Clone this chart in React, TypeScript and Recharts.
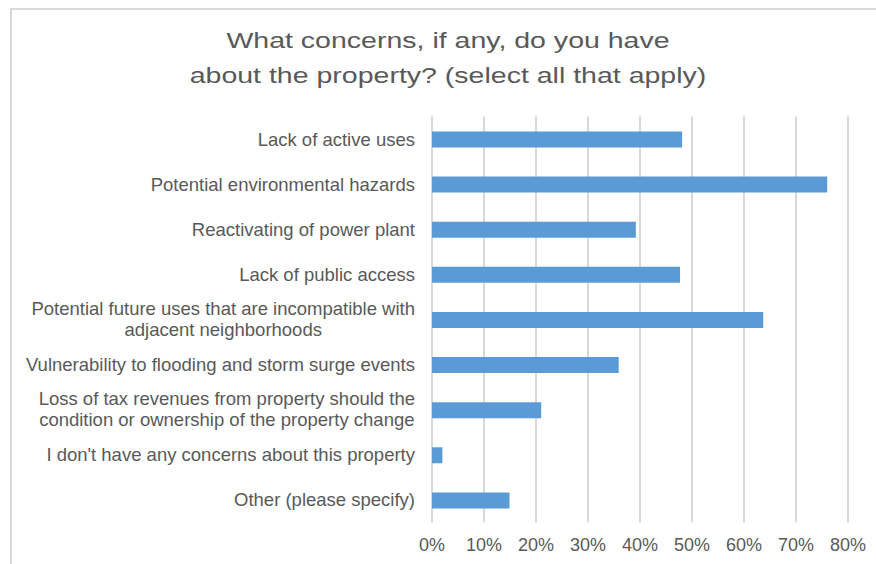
import { Bar, BarChart, CartesianGrid, XAxis, YAxis } from 'recharts';

const categories = [
	'Lack of active uses',
	'Potential environmental hazards',
	'Reactivating of power plant',
	'Lack of public access',
	'Potential future uses that are incompatible with adjacent neighborhoods',
	'Vulnerability to flooding and storm surge events',
	'Loss of tax revenues from property should the condition or ownership of the property change',
	"I don't have any concerns about this property",
	'Other (please specify)',
];

const shares = [0.481, 0.76, 0.392, 0.477, 0.637, 0.359, 0.21, 0.02, 0.149];

const xTicks = [0, 0.1, 0.2, 0.3, 0.4, 0.5, 0.6, 0.7, 0.8];

const titleLines = ['What concerns, if any, do you have', 'about the property? (select all that apply)'];

const FONT = '"Liberation Sans", Arial, Helvetica, sans-serif';
const GREY = '#595959';
const LABEL_SIZE = 18.5;

const data = categories.map((name, i) => ({ name, value: shares[i] }));

// wrap long labels the way Excel does, roughly by character count
function wrap(text: string, max: number) {
	const words = text.split(' ');
	const lines: string[] = [];
	let cur = '';
	for (const w of words) {
		const next = cur ? cur + ' ' + w : w;
		if (next.length > max && cur) {
			lines.push(cur);
			cur = w;
		} else {
			cur = next;
		}
	}
	if (cur) lines.push(cur);
	return lines;
}

let ctx: CanvasRenderingContext2D | null = null;
function measure(s: string) {
	if (!ctx) {
		ctx = document.createElement('canvas').getContext('2d');
	}
	if (!ctx) return s.length * 9;
	ctx.font = `${LABEL_SIZE}px ${FONT}`;
	return ctx.measureText(s).width;
}

function CategoryTick({ x, y, payload }: any) {
	const lines = wrap(payload.value, 48);
	if (lines.length === 1) {
		return (
			<text x={x} y={y + 6.5} textAnchor="end" fill={GREY} fontSize={LABEL_SIZE} fontFamily={FONT}>
				{lines[0]}
			</text>
		);
	}
	const w = Math.max(...lines.map(measure));
	const cx = x - w / 2;
	return (
		<text textAnchor="middle" fill={GREY} fontSize={LABEL_SIZE} fontFamily={FONT}>
			{lines.map((l, i) => (
				<tspan key={i} x={cx} y={y - 5 + i * 21}>
					{l}
				</tspan>
			))}
		</text>
	);
}

export default function App() {
	return (
		<div style={{ position: 'fixed', left: 0, top: 0, width: 876, height: 564, background: '#fff' }}>
			<div
				style={{
					position: 'absolute',
					left: 10,
					top: 8,
					width: 866,
					height: 556,
					borderTop: '2px solid #d9d9d9',
					borderLeft: '2px solid #d9d9d9',
					boxSizing: 'border-box',
				}}
			/>
			<div
				style={{
					position: 'absolute',
					left: 148,
					top: 23,
					width: 600,
					textAlign: 'center',
					fontFamily: FONT,
					fontSize: 22.5,
					lineHeight: '35px',
					color: GREY,
					transform: 'scaleX(1.267)',
					transformOrigin: 'center',
					whiteSpace: 'nowrap',
				}}
			>
				{titleLines[0]}
				<br />
				{titleLines[1]}
			</div>
			<div style={{ position: 'absolute', left: 0, top: 0 }}>
				<BarChart
					width={876}
					height={564}
					data={data}
					layout="vertical"
					margin={{ top: 116.5, right: 28, bottom: 11.5, left: 0 }}
				>
					<CartesianGrid horizontal={false} stroke="#d9d9d9" strokeWidth={2} />
					<XAxis
						type="number"
						domain={[0, 0.8]}
						ticks={xTicks}
						height={30}
						axisLine={false}
						tickLine={false}
						tickSize={6}
						tickMargin={10}
						tickFormatter={(v: number) => `${Math.round(v * 100)}%`}
						tick={{ fill: GREY, fontSize: 18, fontFamily: FONT }}
						interval={0}
					/>
					<YAxis
						type="category"
						dataKey="name"
						width={432}
						axisLine={false}
						tickLine={false}
						tickSize={6}
						tickMargin={11}
						tick={<CategoryTick />}
						interval={0}
					/>
					<Bar dataKey="value" fill="#5b9bd5" barSize={16} isAnimationActive={false} />
				</BarChart>
			</div>
		</div>
	);
}
